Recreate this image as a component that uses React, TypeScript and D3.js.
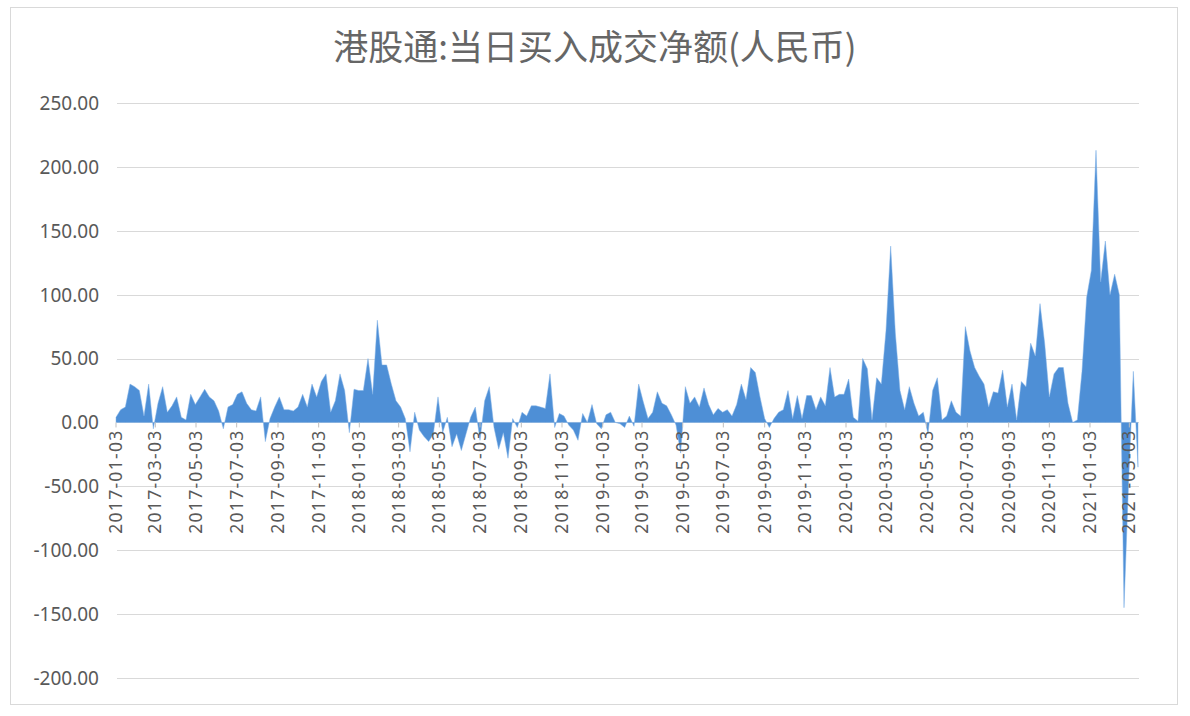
import { useEffect, useRef } from 'react';
import * as d3 from 'd3';

// weekly net buy (bn RMB), one value per week starting 2017-01-03
const values2017 = [
  4, 10, 12, 30, 28, 25, 5, 30, -5, 15,
  28, 8, 13, 20, 4, 2, 22, 14, 20, 26,
  20, 17, 9, -5, 12, 14, 22, 24, 15, 10,
  9, 20, -15, 3, 12, 20, 10, 10, 9, 12,
  22, 12, 30, 20, 32, 38, 8, 17, 38, 25,
  -8, 26,
];
const values2018 = [
  25, 25, 50, 22, 80, 45, 45, 30, 17, 12,
  3, -23, 8, -6, -11, -15, -9, 20, -8, 4,
  -19, -9, -22, -9, 4, 12, -14, 17, 28, -4,
  -21, -8, -28, 3, -4, 8, 5, 13, 13, 12,
  11, 38, -4, 7, 5, -2, -6, -14, 7, 0,
  14, -1,
];
const values2019 = [
  -5, 6, 8, 0, -1, -4, 5, -3, 30, 16,
  3, 8, 24, 15, 13, 6, -2, -24, 28, 15,
  20, 12, 27, 14, 6, 11, 8, 10, 5, 14,
  30, 18, 43, 39, 20, 3, -4, 3, 8, 10,
  25, 3, 21, 3, 21, 21, 10, 20, 13, 43,
  20, 22,
];
const values2020 = [
  22, 34, 4, 1, 50, 42, 2, 35, 30, 72,
  138, 70, 25, 10, 28, 15, 5, 8, -9, 25,
  35, 2, 5, 17, 8, 5, 75, 56, 43, 36,
  30, 12, 24, 23, 41, 12, 30, 2, 32, 28,
  62, 52, 93, 62, 20, 38, 43, 43, 15, 0,
  2, 40,
];
const values2021 = [98, 119, 213, 110, 142, 100, 116, 100, -145, -45, 40, -35];

const yTicks = [-200, -150, -100, -50, 0, 50, 100, 150, 200, 250];
const xTickLabels = [
  '2017-01-03', '2017-03-03', '2017-05-03', '2017-07-03', '2017-09-03', '2017-11-03',
  '2018-01-03', '2018-03-03', '2018-05-03', '2018-07-03', '2018-09-03', '2018-11-03',
  '2019-01-03', '2019-03-03', '2019-05-03', '2019-07-03', '2019-09-03', '2019-11-03',
  '2020-01-03', '2020-03-03', '2020-05-03', '2020-07-03', '2020-09-03', '2020-11-03',
  '2021-01-03', '2021-03-03',
];

const title = '港股通:当日买入成交净额(人民币)';

interface Point {
  date: Date;
  value: number;
}

export default function App() {
  const ref = useRef<SVGSVGElement>(null);

  useEffect(() => {
    const svgElement = ref.current;
    if (!svgElement) {
      return;
    }
    const svg = d3.select(svgElement);
    svg.selectAll('*').remove();

    const width = 1190;
    const height = 716;
    const margin = { top: 103, right: 52, bottom: 38, left: 116 };

    const all = [...values2017, ...values2018, ...values2019, ...values2020, ...values2021];
    const data: Point[] = all.map((value, i) => ({ date: new Date(2017, 0, 3 + i * 7), value }));

    const x = d3
      .scaleTime()
      .domain([data[0].date, data[data.length - 1].date])
      .range([margin.left, width - margin.right]);

    const y = d3
      .scaleLinear()
      .domain([-200, 250])
      .range([height - margin.bottom, margin.top]);

    svg.append('rect').attr('width', width).attr('height', height).attr('fill', '#ffffff');
    svg
      .append('rect')
      .attr('x', 10.5)
      .attr('y', 7.5)
      .attr('width', 1167)
      .attr('height', 697)
      .attr('fill', 'none')
      .attr('stroke', '#d9d9d9');

    svg
      .append('text')
      .attr('x', 595)
      .attr('y', 60)
      .attr('text-anchor', 'middle')
      .attr('font-family', '"Noto Sans CJK SC", "Noto Sans", sans-serif')
      .attr('font-size', 35)
      .attr('fill', '#666666')
      .text(title);

    // gridlines + y labels
    const grid = svg.append('g');
    grid
      .selectAll('line')
      .data(yTicks)
      .join('line')
      .attr('x1', margin.left + 1)
      .attr('x2', width - margin.right + 1)
      .attr('y1', (d: number) => Math.round(y(d)) + 0.5)
      .attr('y2', (d: number) => Math.round(y(d)) + 0.5)
      .attr('stroke', '#d9d9d9');

    grid
      .selectAll('text')
      .data(yTicks)
      .join('text')
      .attr('x', 99)
      .attr('y', (d: number) => y(d))
      .attr('dy', '0.36em')
      .attr('text-anchor', 'end')
      .attr('font-family', '"Noto Sans", sans-serif')
      .attr('font-size', 19)
      .attr('fill', '#595959')
      .text((d: number) => d.toFixed(2));

    // area
    const area = d3
      .area<Point>()
      .x((d) => x(d.date))
      .y0(y(0))
      .y1((d) => y(d.value));

    svg
      .append('path')
      .datum(data)
      .attr('d', area)
      .attr('fill', '#4e8fd6')
      .attr('stroke', '#7fb0e6')
      .attr('stroke-width', 0.5);

    // x ticks + labels sitting on the zero line
    const parse = d3.timeParse('%Y-%m-%d');
    const zeroY = y(0);
    const xAxis = svg.append('g');
    xAxis
      .selectAll('line')
      .data(xTickLabels)
      .join('line')
      .attr('x1', (d: string) => x(parse(d) as Date))
      .attr('x2', (d: string) => x(parse(d) as Date))
      .attr('y1', zeroY)
      .attr('y2', zeroY + 5)
      .attr('stroke', '#bfbfbf');

    xAxis
      .selectAll('text')
      .data(xTickLabels)
      .join('text')
      .attr('transform', (d: string) => `translate(${x(parse(d) as Date)},${zeroY + 7}) rotate(-90)`)
      .attr('text-anchor', 'end')
      .attr('dy', '0.35em')
      .attr('font-family', '"Noto Sans", sans-serif')
      .attr('font-size', 17.5)
      .attr('letter-spacing', 1.3)
      .attr('fill', '#595959')
      .text((d: string) => d);
  }, []);

  return (
    <svg
      ref={ref}
      width={1190}
      height={716}
      style={{ position: 'absolute', left: 0, top: 0, display: 'block' }}
    />
  );
}
